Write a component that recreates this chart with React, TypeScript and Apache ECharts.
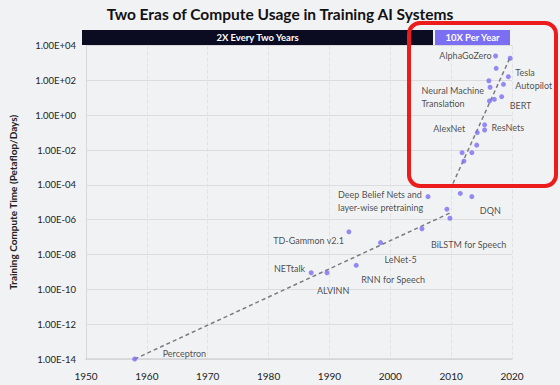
import React, { useEffect, useRef } from "react";
import * as echarts from "echarts";

const years = [1958, 1987, 1989.6, 1993.2, 1994.4, 1998.4, 2005.2, 2006.2, 2009.3, 2009.8, 2011.5, 2013.4, 2011.8, 2012.1, 2013.4, 2014.2, 2014.3, 2015.5, 2015.5, 2016.3, 2017.1, 2018.3, 2016.4, 2016.2, 2018.6, 2019.4, 2017.4, 2017.3, 2019.7];
const values = [1e-14, 9e-10, 9e-10, 2e-7, 2.4e-9, 4.8e-8, 3e-7, 2.1e-5, 4e-6, 1.2e-6, 3.2e-5, 2.1e-5, 7e-3, 2.3e-3, 7e-3, 1.9e-2, 0.1, 0.14, 0.28, 6.5, 8.1, 11.5, 40, 95, 59, 162, 490, 2500, 1860];
const names = ["Perceptron", "NETtalk", "ALVINN", "TD-Gammon v2.1", "RNN for Speech", "LeNet-5", "BiLSTM for Speech", "Deep Belief Nets and\nlayer-wise pretraining", "", "", "", "DQN", "", "", "", "", "AlexNet", "", "ResNets", "Neural Machine\nTranslation", "", "BERT", "", "", "", "Tesla\nAutopilot", "", "AlphaGoZero", ""];

const trendEra1Years = [1958, 2009.9];
const trendEra1Values = [1e-14, 2.5e-6];
const trendEra2Years = [2010.3, 2019.7];
const trendEra2Values = [1.2e-4, 2100];

const xTicks = { min: 1950, max: 2020, interval: 10 };
const yTicks = { min: 1e-14, max: 1e4, interval: 2 };

const labelStyle: Record<string, { align: string; offset: number[] }> = {
  "Perceptron": { align: "left", offset: [28, -6] },
  "NETtalk": { align: "right", offset: [-6, -4] },
  "ALVINN": { align: "left", offset: [-10, 18] },
  "TD-Gammon v2.1": { align: "right", offset: [-5, 9] },
  "RNN for Speech": { align: "left", offset: [5, 14] },
  "LeNet-5": { align: "left", offset: [4, 17] },
  "BiLSTM for Speech": { align: "left", offset: [9, 16] },
  "Deep Belief Nets and\nlayer-wise pretraining": { align: "left", offset: [-90, 4] },
  "DQN": { align: "left", offset: [8, 14] },
  "AlexNet": { align: "right", offset: [-12, -4] },
  "ResNets": { align: "left", offset: [7, 3] },
  "Neural Machine\nTranslation": { align: "left", offset: [-68, -4] },
  "BERT": { align: "left", offset: [8, 9] },
  "Tesla\nAutopilot": { align: "left", offset: [7, 2] },
  "AlphaGoZero": { align: "right", offset: [-4, 0] },
};

const FONT = "Lato, 'Noto Sans', sans-serif";

function fmtExp(v: number): string {
  const e = Math.round(Math.log10(v));
  const s = e < 0 ? "-" : "+";
  const a = Math.abs(e);
  return "1.00E" + s + (a < 10 ? "0" + a : String(a));
}

export default function App() {
  const ref = useRef<HTMLDivElement>(null);
  useEffect(() => {
    if (!ref.current) return;
    const chart = echarts.init(ref.current, null, { renderer: "svg" });
    const points = years.map((y, i) => {
      const n = names[i];
      const st = n ? labelStyle[n] : null;
      return {
        value: [y, values[i]],
        label: st
          ? {
              show: true,
              formatter: n,
              position: "inside",
              align: st.align,
              verticalAlign: "middle",
              offset: st.offset,
              fontSize: 9,
              lineHeight: 13,
              color: "#222",
              fontFamily: FONT,
            }
          : { show: false },
      };
    });
    chart.setOption({
      animation: false,
      backgroundColor: "#f1f2f4",
      title: {
        text: "Two Eras of Compute Usage in Training AI Systems",
        left: "center",
        top: 1,
        textStyle: { fontFamily: FONT, fontWeight: "bold", fontSize: 15.5, color: "#111" },
      },
      grid: { left: 82, right: 48, top: 45.5, bottom: 26, containLabel: false },
      xAxis: {
        type: "value",
        min: xTicks.min,
        max: xTicks.max,
        interval: xTicks.interval,
        axisLine: { show: true, lineStyle: { color: "#d4d4d6", width: 1.5 } },
        axisTick: { show: false },
        axisLabel: { color: "#222", fontSize: 10, fontFamily: FONT, margin: 12, formatter: (v: number) => String(v) },
        splitLine: { show: true, lineStyle: { color: "#e2e2e4", type: "dashed", width: 1 } },
      },
      yAxis: {
        type: "log",
        logBase: 10,
        min: yTicks.min,
        max: yTicks.max,
        interval: yTicks.interval,
        name: "Training Compute Time (Petaflop/Days)",
        nameLocation: "middle",
        nameRotate: 90,
        nameGap: 68,
        nameTextStyle: { fontFamily: FONT, fontWeight: "bold", fontSize: 10, color: "#222" },
        axisLine: { show: true, lineStyle: { color: "#d8d8da", width: 1 } },
        axisTick: { show: false },
        axisLabel: { color: "#222", fontSize: 9.5, fontFamily: FONT, margin: 10, formatter: (v: number) => fmtExp(v) },
        splitLine: { show: true, lineStyle: { color: "#dcdcde", width: 1 } },
      },
      series: [
        {
          type: "line",
          data: trendEra1Years.map((y, i) => [y, trendEra1Values[i]]),
          symbol: "none",
          lineStyle: { color: "#7c7c80", width: 1.5, type: [4, 3] },
          z: 2,
        },
        {
          type: "line",
          data: trendEra2Years.map((y, i) => [y, trendEra2Values[i]]),
          symbol: "none",
          lineStyle: { color: "#7c7c80", width: 1.5, type: [4, 3] },
          z: 2,
        },
        {
          type: "scatter",
          data: points,
          symbolSize: 5,
          itemStyle: { color: "#7a6ef2" },
          z: 3,
        },
      ],
      graphic: [
        { type: "rect", shape: { x: 82, y: 30, width: 351, height: 15 }, style: { fill: "#0b0b22" }, z: 10 },
        {
          type: "text", x: 257.5, y: 37.5, z: 11,
          style: { text: "2X Every Two Years", fill: "#fff", font: "bold 9.5px " + FONT, textAlign: "center", textVerticalAlign: "middle" },
        },
        { type: "rect", shape: { x: 435, y: 30, width: 75, height: 15 }, style: { fill: "#7b6ef2" }, z: 10 },
        {
          type: "text", x: 472.5, y: 37.5, z: 11,
          style: { text: "10X Per Year", fill: "#fff", font: "bold 9.5px " + FONT, textAlign: "center", textVerticalAlign: "middle" },
        },
        {
          type: "rect", z: 12,
          shape: { x: 409, y: 23, width: 147, height: 163, r: 11 },
          style: { fill: "none", stroke: "#ec1c1c", lineWidth: 4 },
        },
      ],
    });
    return () => chart.dispose();
  }, []);
  return <div ref={ref} style={{ position: "fixed", left: 0, top: 0, width: 560, height: 385 }} />;
}
